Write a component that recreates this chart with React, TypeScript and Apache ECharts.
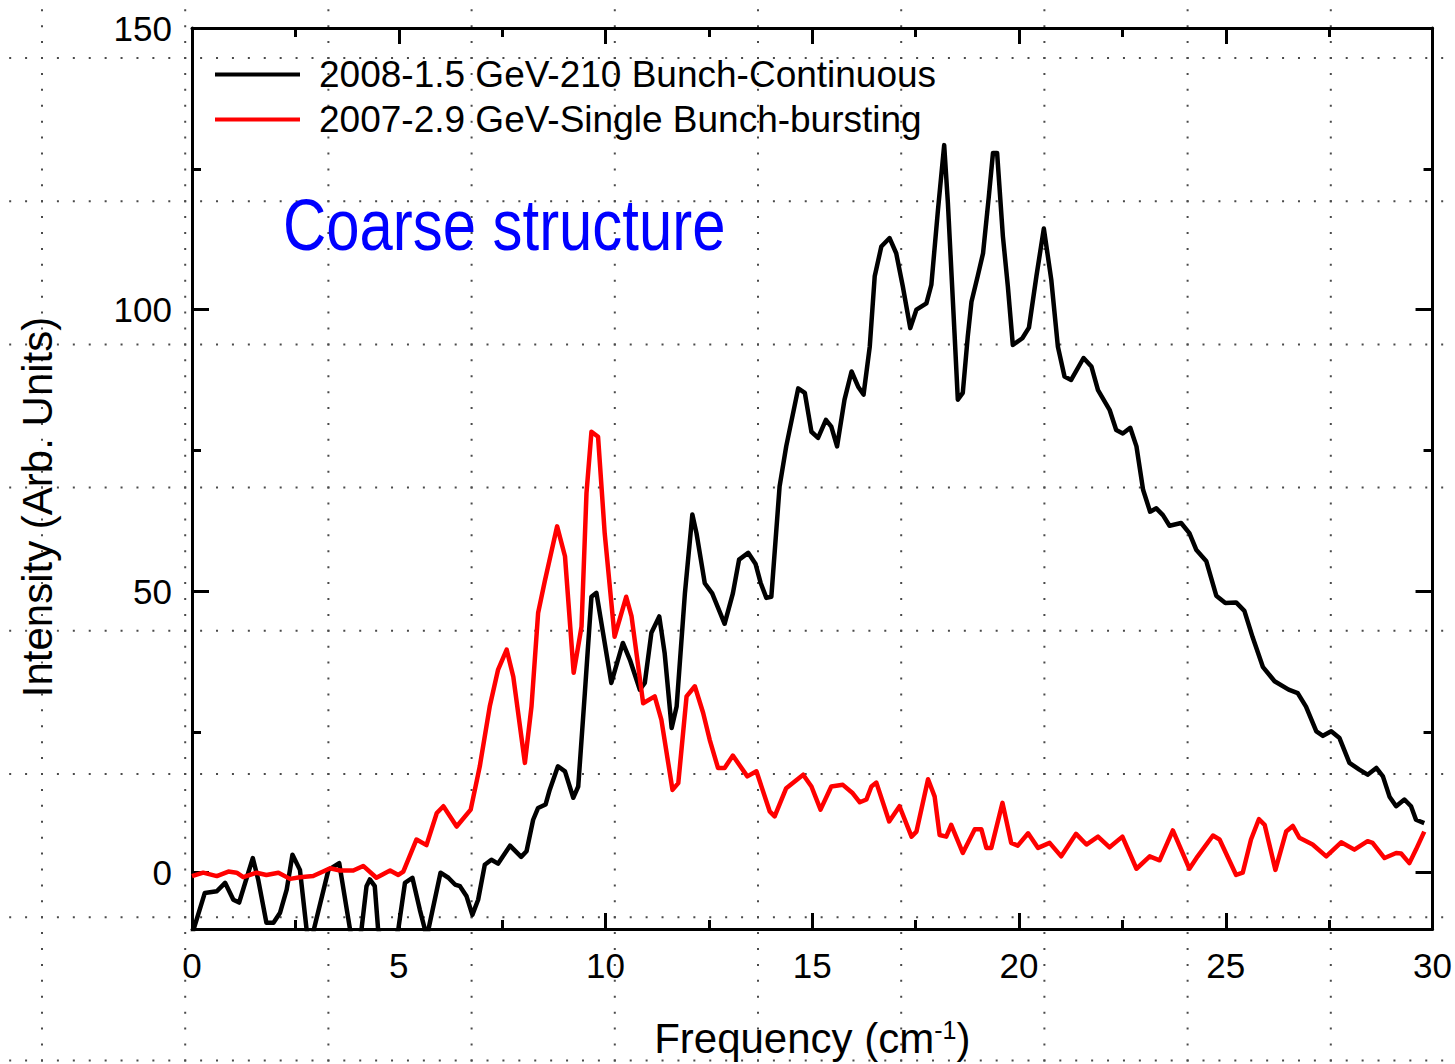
import { useEffect, useRef } from "react";
import * as echarts from "echarts";

const seriesNames = [
  "2008-1.5 GeV-210 Bunch-Continuous",
  "2007-2.9 GeV-Single Bunch-bursting",
];

const freqBlack = [
  0.0, 0.31, 0.6, 0.8, 1.0, 1.14, 1.47, 1.6, 1.8, 1.97, 2.13, 2.29, 2.43, 2.61, 2.77, 2.86, 2.95, 3.3, 3.56, 3.82,
  3.95, 4.1, 4.22, 4.3, 4.42, 4.5, 4.75, 4.99, 5.15, 5.33, 5.51, 5.63, 5.67, 5.72, 6.01, 6.2, 6.36, 6.48, 6.64, 6.78,
  6.92, 7.08, 7.24, 7.4, 7.69, 7.96, 8.09, 8.25, 8.37, 8.55, 8.65, 8.85, 9.02, 9.22, 9.34, 9.5, 9.66, 9.78, 9.94, 10.14,
  10.42, 10.59, 10.83, 10.95, 11.11, 11.3, 11.43, 11.6, 11.72, 11.92, 12.1, 12.2, 12.4, 12.58, 12.88, 13.08, 13.23, 13.45, 13.63, 13.75,
  13.89, 14.01, 14.21, 14.37, 14.66, 14.82, 14.98, 15.14, 15.33, 15.46, 15.6, 15.78, 15.95, 16.11, 16.24, 16.39, 16.51, 16.67, 16.87, 17.03,
  17.19, 17.37, 17.52, 17.76, 17.88, 18.04, 18.19, 18.28, 18.44, 18.52, 18.64, 18.76, 18.85, 19.0, 19.13, 19.27, 19.37, 19.47, 19.61, 19.73,
  19.85, 20.08, 20.24, 20.42, 20.6, 20.78, 20.94, 21.1, 21.26, 21.56, 21.75, 21.91, 22.19, 22.35, 22.51, 22.69, 22.84, 23.0, 23.17, 23.32,
  23.48, 23.64, 23.92, 24.12, 24.29, 24.53, 24.77, 24.99, 25.25, 25.45, 25.65, 25.9, 26.18, 26.52, 26.74, 26.94, 27.19, 27.35, 27.55, 27.75,
  27.99, 28.23, 28.43, 28.64, 28.8, 28.96, 29.12, 29.32, 29.48, 29.6, 29.8,
];
const intensityBlack = [
  -11, -3.6, -3.3, -1.8, -4.8, -5.3, 2.6, -1.2, -8.9, -8.9, -7.1, -3, 3.2, 0.5, -10, -14, -10, 0.5, 1.7, -10,
  -15, -10, -2.4, -1.2, -2.4, -10, -16, -10, -1.8, -0.9, -6.6, -10, -12, -10, 0, -0.9, -2.1, -2.4, -4.2, -7.5,
  -4.8, 1.4, 2.3, 1.6, 4.8, 2.8, 3.8, 9.4, 11.5, 12.1, 14.7, 18.9, 18, 13.3, 15.3, 31.9, 49, 49.7, 42.6, 33.7,
  40.8, 37.8, 32.5, 33.7, 42.6, 45.5, 39, 25.7, 29.5, 49.6, 63.6, 60.3, 51.4, 49.6, 44.2, 49.6, 55.6, 56.8, 54.8, 51.5,
  48.8, 49, 68.6, 75.7, 86, 85.2, 78.3, 77.2, 80.4, 79.2, 75.7, 84, 89, 86.3, 84.9, 93.4, 105.9, 111.2, 112.7, 110,
  104.1, 96.7, 100, 101.1, 104.4, 117.7, 129.2, 118.9, 95.8, 84, 85.2, 95.2, 101.4, 105.9, 110, 120.1, 127.8, 127.8, 113, 104.1,
  93.7, 94.9, 96.8, 105.9, 114.4, 105.3, 93.4, 88.1, 87.5, 91.4, 89.9, 85.7, 82.2, 78.6, 78, 79, 75.7, 68, 64.1, 64.7,
  63.5, 61.6, 62.1, 60.3, 57.3, 55.3, 49.2, 47.9, 48, 46.5, 41.8, 36.5, 34, 32.5, 31.9, 29.5, 25.1, 24.3, 25.1, 23.9,
  19.5, 18.3, 17.4, 18.6, 17.1, 13.5, 11.8, 13, 11.8, 9.4, 8.8,
];

const freqRed = [
  0.0, 0.27, 0.6, 0.88, 1.08, 1.24, 1.56, 1.8, 2.09, 2.37, 2.61, 2.93, 3.17, 3.34, 3.58, 3.9, 4.14, 4.46, 4.79, 4.99,
  5.11, 5.43, 5.67, 5.92, 6.08, 6.4, 6.74, 6.96, 7.2, 7.4, 7.61, 7.77, 8.05, 8.21, 8.37, 8.53, 8.83, 9.02, 9.23, 9.42,
  9.54, 9.66, 9.82, 9.98, 10.22, 10.5, 10.63, 10.91, 11.19, 11.35, 11.62, 11.76, 11.96, 12.16, 12.36, 12.52, 12.72, 12.88, 13.08, 13.43,
  13.65, 13.97, 14.09, 14.37, 14.78, 14.98, 15.2, 15.46, 15.74, 15.98, 16.15, 16.31, 16.43, 16.55, 16.86, 17.11, 17.4, 17.52, 17.8, 17.96,
  18.08, 18.24, 18.36, 18.64, 18.93, 19.09, 19.21, 19.33, 19.6, 19.81, 19.97, 20.22, 20.46, 20.74, 21.02, 21.38, 21.63, 21.91, 22.19, 22.5,
  22.84, 23.16, 23.4, 23.72, 24.12, 24.32, 24.69, 24.85, 25.25, 25.41, 25.61, 25.8, 25.94, 26.2, 26.46, 26.62, 26.78, 27.1, 27.43, 27.79,
  28.11, 28.43, 28.55, 28.84, 29.12, 29.24, 29.44, 29.6, 29.8,
];
const intensityRed = [
  -0.6, 0, -0.6, 0.2, 0, -0.8, 0, -0.4, 0, -1.1, -0.8, -0.6, 0.2, 0.8, 0.4, 0.4, 1.2, -0.9, 0.4, -0.4,
  0.2, 5.9, 4.9, 10.6, 11.8, 8.2, 11.2, 18.9, 29.5, 36, 39.6, 34.8, 19.5, 29.5, 46.1, 51.7, 61.5, 56.2, 35.5, 43.7,
  67.4, 78.3, 77.4, 60.3, 41.9, 49, 45.5, 30.1, 31.3, 27.2, 14.7, 15.9, 31.3, 33.1, 28.4, 23.6, 18.6, 18.6, 20.8, 17.1,
  18, 10.9, 10, 15, 17.4, 15.3, 11.2, 15.3, 15.6, 14.1, 12.5, 13, 15.3, 16, 9.1, 11.8, 6.4, 7.3, 16.6, 13.5,
  6.7, 6.4, 8.5, 3.5, 7.7, 7.7, 4.4, 4.4, 12.4, 5.3, 4.8, 7, 4.4, 5.3, 2.9, 6.9, 5, 6.4, 4.5, 6.4,
  0.7, 2.9, 2.2, 7.5, 0.7, 2.9, 6.6, 5.9, -0.4, 0, 5.9, 9.5, 8.5, 0.5, 7.3, 8.3, 6.2, 5, 2.9, 5.4,
  4.1, 5.6, 5.3, 2.6, 3.5, 3.4, 1.7, 4.1, 7.3,
];

const yMajorTicks = [0, 50, 100, 150];
const yMinorTicks = [25, 75, 125];

const FONT = '"Liberation Sans", Arial, Helvetica, sans-serif';

function zip(xs: number[], ys: number[]) {
  return xs.map((x, i) => [x, ys[i]]);
}

function dottedGrid() {
  const els: any[] = [];
  const step = 143.2;
  const dot = step / 9;
  const style = { stroke: "#4a4a4a", lineWidth: 2, lineDash: [2, dot - 2] };
  for (let k = 0; k < 10; k++) {
    const x = 42 + step * k;
    els.push({ type: "line", silent: true, z: 0, shape: { x1: x, y1: 58 - dot * 3 - 1, x2: x, y2: 1064 }, style });
  }
  for (let j = 0; j < 8; j++) {
    const y = 58 + step * j;
    els.push({ type: "line", silent: true, z: 0, shape: { x1: 42 - dot * 2 - 1, y1: y, x2: 1455, y2: y }, style });
  }
  return els;
}

const axisLineStyle = { color: "#000", width: 3 };

export default function App() {
  const ref = useRef<HTMLDivElement>(null);
  useEffect(() => {
    if (!ref.current) return;
    const chart = echarts.init(ref.current, null, { renderer: "svg" });
    const xBase = (pos: "bottom" | "top", labels: boolean) => ({
      type: "value",
      min: 0,
      max: 30,
      interval: 5,
      position: pos,
      axisLine: { show: true, onZero: false, lineStyle: axisLineStyle },
      axisTick: { show: true, inside: true, length: 16, lineStyle: axisLineStyle },
      minorTick: { show: true, splitNumber: 2, length: 9, lineStyle: axisLineStyle },
      splitLine: { show: false },
      minorSplitLine: { show: false },
      axisLabel: labels
        ? { show: true, fontFamily: FONT, fontSize: 35, color: "#000", margin: 19 }
        : { show: false },
    });
    const yBase = (pos: "left" | "right", ticks: number[], len: number, labels: boolean, line: boolean) => ({
      type: "value",
      min: -10,
      max: 150,
      position: pos,
      axisLine: { show: line, onZero: false, lineStyle: axisLineStyle },
      axisTick: { show: true, inside: true, length: len, customValues: ticks, lineStyle: axisLineStyle },
      splitLine: { show: false },
      axisLabel: labels
        ? { show: true, customValues: ticks, fontFamily: FONT, fontSize: 35, color: "#000", margin: 20 }
        : { show: false },
    });
    const option: any = {
      animation: false,
      backgroundColor: "#ffffff",
      grid: { left: 192, right: 22, top: 28, bottom: 134 },
      legend: {
        left: 215,
        top: 56,
        padding: 0,
        orient: "vertical",
        itemWidth: 85,
        itemHeight: 4,
        itemGap: 8,
        icon: "rect",
        data: seriesNames,
        textStyle: { fontFamily: FONT, fontSize: 37, color: "#000", lineHeight: 37, padding: [0, 0, 0, 14] },
      },
      xAxis: [
        {
          ...xBase("bottom", true),
          name: "{a|Frequency (cm}{b|-1}{a|)}",
          nameLocation: "middle",
          nameGap: 88,
          nameTextStyle: {
            rich: {
              a: { fontFamily: FONT, fontSize: 42, color: "#000", lineHeight: 42 },
              b: { fontFamily: FONT, fontSize: 25, color: "#000", verticalAlign: "top", lineHeight: 25 },
            },
          },
        },
        xBase("top", false),
      ],
      yAxis: [
        yBase("left", yMajorTicks, 17, true, true),
        yBase("left", yMinorTicks, 9, false, false),
        yBase("right", yMajorTicks, 17, false, true),
        yBase("right", yMinorTicks, 9, false, false),
      ],
      series: [
        {
          type: "line",
          name: seriesNames[0],
          data: zip(freqBlack, intensityBlack),
          xAxisIndex: 0,
          yAxisIndex: 0,
          symbol: "none",
          showSymbol: false,
          color: "#000000",
          lineStyle: { color: "#000000", width: 4.5, join: "round" },
          z: 3,
        },
        {
          type: "line",
          name: seriesNames[1],
          data: zip(freqRed, intensityRed),
          xAxisIndex: 0,
          yAxisIndex: 0,
          symbol: "none",
          showSymbol: false,
          color: "#ff0000",
          lineStyle: { color: "#ff0000", width: 4.5, join: "round" },
          z: 3,
        },
      ],
      graphic: [
        ...dottedGrid(),
        {
          type: "text",
          x: 283,
          y: 225,
          scaleX: 0.82,
          z: 5,
          style: {
            text: "Coarse structure",
            fill: "#0000ff",
            font: `73px ${FONT}`,
            textAlign: "left",
            textVerticalAlign: "middle",
          },
        },
        {
          type: "text",
          x: 37,
          y: 507,
          rotation: Math.PI / 2,
          z: 5,
          style: {
            text: "Intensity (Arb. Units)",
            fill: "#000",
            font: `42px ${FONT}`,
            textAlign: "center",
            textVerticalAlign: "middle",
          },
        },
      ],
    };
    chart.setOption(option);
    return () => chart.dispose();
  }, []);
  return (
    <div
      ref={ref}
      style={{ position: "fixed", left: 0, top: 0, width: 1455, height: 1064, background: "#fff" }}
    />
  );
}
